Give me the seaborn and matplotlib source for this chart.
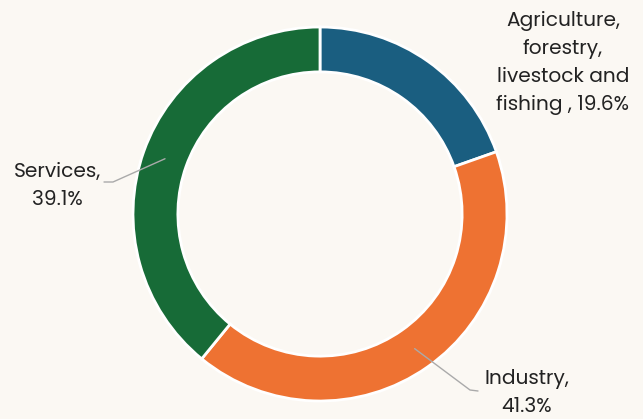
import matplotlib
matplotlib.use("Agg")
import numpy as np
import matplotlib.pyplot as plt
import seaborn as sns

# Данные
sectors = ["Agriculture,\nforestry,\nlivestock and\nfishing", "Industry", "Services"]
shares = [19.6, 41.3, 39.1]
colors = ["#1a5e80", "#ee7232", "#176b37"]

sns.set_theme(style="white")
plt.rcParams['font.family'] = ['Poppins', 'Lato', 'DejaVu Sans']

bg = "#fbf8f3"
W, H = 643, 419
fig = plt.figure(figsize=(W / 100, H / 100), dpi=100, facecolor=bg)

# центр кольца и радиус в пикселях
cx, cy, r = 320, 214, 187
ax = fig.add_axes([(cx - r) / W, (H - cy - r) / H, 2 * r / W, 2 * r / H])
ax.set_facecolor(bg)

wedges, _ = ax.pie(shares, colors=colors, startangle=90, counterclock=False,
                   radius=1, wedgeprops=dict(width=0.24, edgecolor="white", linewidth=2))
ax.set_xlim(-1, 1)
ax.set_ylim(-1, 1)
ax.set_aspect("equal")
ax.axis("off")


def px(x, y):
    # пиксели -> координаты осей
    return (x - cx) / r, (cy - y) / r


def mid_point(w, rad=0.88):
    a = np.deg2rad((w.theta1 + w.theta2) / 2)
    return rad * np.cos(a), rad * np.sin(a)


txt = dict(fontsize=14.5, color="#222222", ha="center", va="center", linespacing=1.55)
line = dict(color="#aaaaaa", lw=1, clip_on=False)

# сельское хозяйство
ax.text(*px(563, 63), f"{sectors[0]} , {shares[0]}%", **txt)

# промышленность
p = mid_point(wedges[1])
e1, e2 = px(470, 390), px(478, 391)
ax.plot([p[0], e1[0], e2[0]], [p[1], e1[1], e2[1]], **line)
ax.text(*px(527, 393), f"{sectors[1]},\n{shares[1]}%", **txt)

# услуги
p = mid_point(wedges[2])
e1, e2 = px(113, 182), px(104, 182)
ax.plot([p[0], e1[0], e2[0]], [p[1], e1[1], e2[1]], **line)
ax.text(*px(57, 186), f"{sectors[2]},\n{shares[2]}%", **txt)

fig.savefig("out.png", dpi=100, facecolor=bg)
